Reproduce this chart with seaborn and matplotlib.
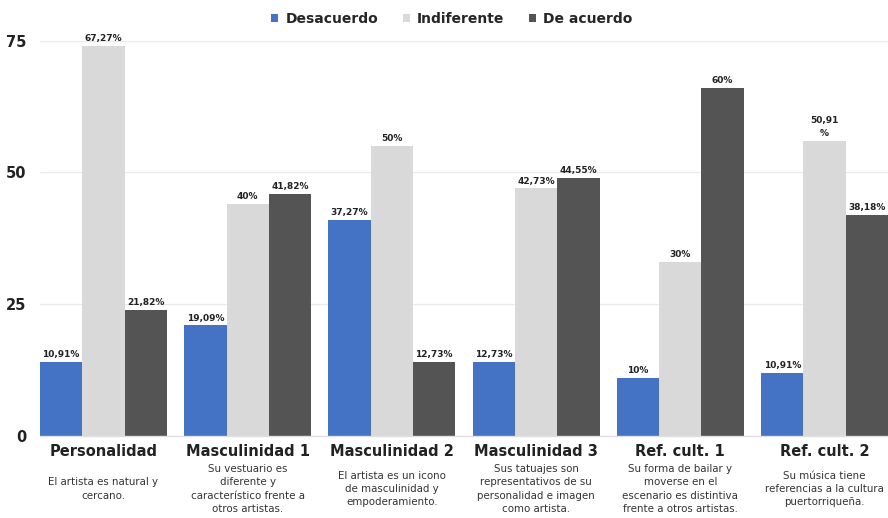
import matplotlib
matplotlib.use("Agg")
import matplotlib.pyplot as plt
import matplotlib.transforms as mtransforms
import seaborn as sns
import pandas as pd

categories = ["Personalidad", "Masculinidad 1", "Masculinidad 2",
              "Masculinidad 3", "Ref. cult. 1", "Ref. cult. 2"]
subtitles = [
    "El artista es natural y\ncercano.",
    "Su vestuario es\ndiferente y\ncaracterístico frente a\notros artistas.",
    "El artista es un icono\nde masculinidad y\nempoderamiento.",
    "Sus tatuajes son\nrepresentativos de su\npersonalidad e imagen\ncomo artista.",
    "Su forma de bailar y\nmoverse en el\nescenario es distintiva\nfrente a otros artistas.",
    "Su música tiene\nreferencias a la cultura\npuertorriqueña.",
]
series = ["Desacuerdo", "Indiferente", "De acuerdo"]
desacuerdo = [14, 21, 41, 14, 11, 12]
indiferente = [74, 44, 55, 47, 33, 56]
de_acuerdo = [24, 46, 14, 49, 66, 42]
lab_desacuerdo = ["10,91%", "19,09%", "37,27%", "12,73%", "10%", "10,91%"]
lab_indiferente = ["67,27%", "40%", "50%", "42,73%", "30%", "50,91\n%"]
lab_de_acuerdo = ["21,82%", "41,82%", "12,73%", "44,55%", "60%", "38,18%"]
yticks = [0, 25, 50, 75]

colors = ["#4472C4", "#D9D9D9", "#545454"]

rows = []
for s, vals in zip(series, [desacuerdo, indiferente, de_acuerdo]):
    for c, v in zip(categories, vals):
        rows.append({"cat": c, "serie": s, "val": v})
df = pd.DataFrame(rows)

sns.set_theme(style="white")
plt.rcParams["font.family"] = ["DejaVu Sans"]

fig = plt.figure(figsize=(8.88, 5.18), dpi=100)
ax = fig.add_axes([40 / 888, 82 / 518, 848 / 888, (436 - 40.7) / 518])

sns.barplot(data=df, x="cat", y="val", hue="serie", palette=colors,
            width=0.88, ax=ax, legend=True, saturation=1,
            edgecolor="none", linewidth=0)

for cont, labs in zip(ax.containers, [lab_desacuerdo, lab_indiferente, lab_de_acuerdo]):
    ax.bar_label(cont, labels=labs, padding=2, fontsize=6.5, fontweight="bold",
                 color="#222222", linespacing=1.6)

ax.set_xlim(-0.44, 5.44)
ax.set_ylim(0, 75)
ax.set_yticks(yticks)
ax.set_yticklabels([str(t) for t in yticks], fontsize=10.5, fontweight="bold", color="#222222")
ax.tick_params(axis="y", length=0, pad=10)
ax.tick_params(axis="x", length=0, pad=6)
ax.set_xticks(range(len(categories)))
ax.set_xticklabels(categories, fontsize=10.5, fontweight="bold", color="#222222")
ax.set_xlabel("")
ax.set_ylabel("")
ax.grid(axis="y", color="#EAEAEA", linewidth=0.9)
ax.set_axisbelow(True)
for sp in ["top", "right", "left"]:
    ax.spines[sp].set_visible(False)
ax.spines["bottom"].set_color("#E0E0E0")
ax.spines["bottom"].set_linewidth(1.0)

trans = mtransforms.blended_transform_factory(ax.transData, fig.transFigure)
for i, sub in enumerate(subtitles):
    ax.text(i, 1 - 489 / 518, sub, transform=trans, ha="center", va="center",
            fontsize=7.4, color="#333333", linespacing=1.4, clip_on=False)

handles, labels = ax.get_legend_handles_labels()
ax.get_legend().remove()
fig.legend(handles, labels, loc="center", bbox_to_anchor=(452 / 888, 1 - 19 / 518),
           ncol=3, frameon=False, prop={"weight": "bold", "size": 10},
           handlelength=0.5, handleheight=0.5, handletextpad=0.5, columnspacing=1.8)

fig.savefig("out.png", dpi=100)
